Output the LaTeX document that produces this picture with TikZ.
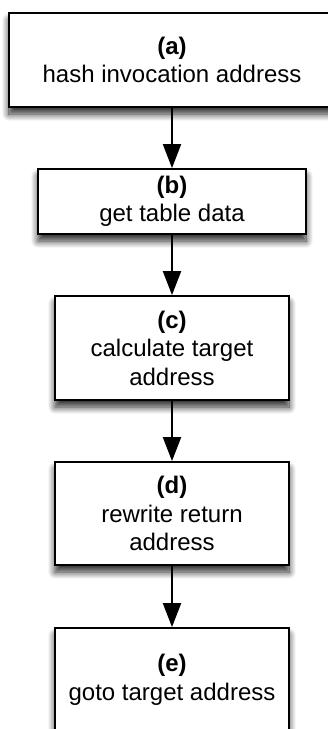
\documentclass[tikz,border=0pt]{standalone}
\usepackage{fontspec}
\setmainfont{Liberation Sans}
\usetikzlibrary{arrows.meta,shadows.blur}

\begin{document}
\begin{tikzpicture}[x=1pt, y=-1pt,
    stepbox/.style={draw, line width=1.8pt, fill=white, align=center, inner sep=0pt,
        font=\fontsize{24}{28.5}\selectfont,
        blur shadow={shadow xshift=0pt, shadow yshift=-7pt, shadow blur radius=7pt, shadow blur steps=12, shadow opacity=85}},
    flow/.style={line width=2pt, -{Triangle[length=24pt, width=18pt]}}]
    \useasboundingbox (0,0) rectangle (327,729);

    \node[stepbox, minimum width=326pt, minimum height=94pt] (hash) at (172,60)
        {\textbf{(a)}\\hash invocation address};
    \node[stepbox, minimum width=268pt, minimum height=65pt] (table) at (172,201.5)
        {\textbf{(b)}\\get table data};
    \node[stepbox, minimum width=234pt, minimum height=104pt] (target) at (172,348)
        {\textbf{(c)}\\calculate target\\address};
    \node[stepbox, minimum width=234pt, minimum height=103pt] (rewrite) at (172,513.5)
        {\textbf{(d)}\\rewrite return\\address};
    \node[stepbox, minimum width=234pt, minimum height=104pt] (goto) at (172,680)
        {\textbf{(e)}\\goto target address};

    \draw[flow] (hash) -- (table);
    \draw[flow] (table) -- (target);
    \draw[flow] (target) -- (rewrite);
    \draw[flow] (rewrite) -- (goto);
\end{tikzpicture}
\end{document}
